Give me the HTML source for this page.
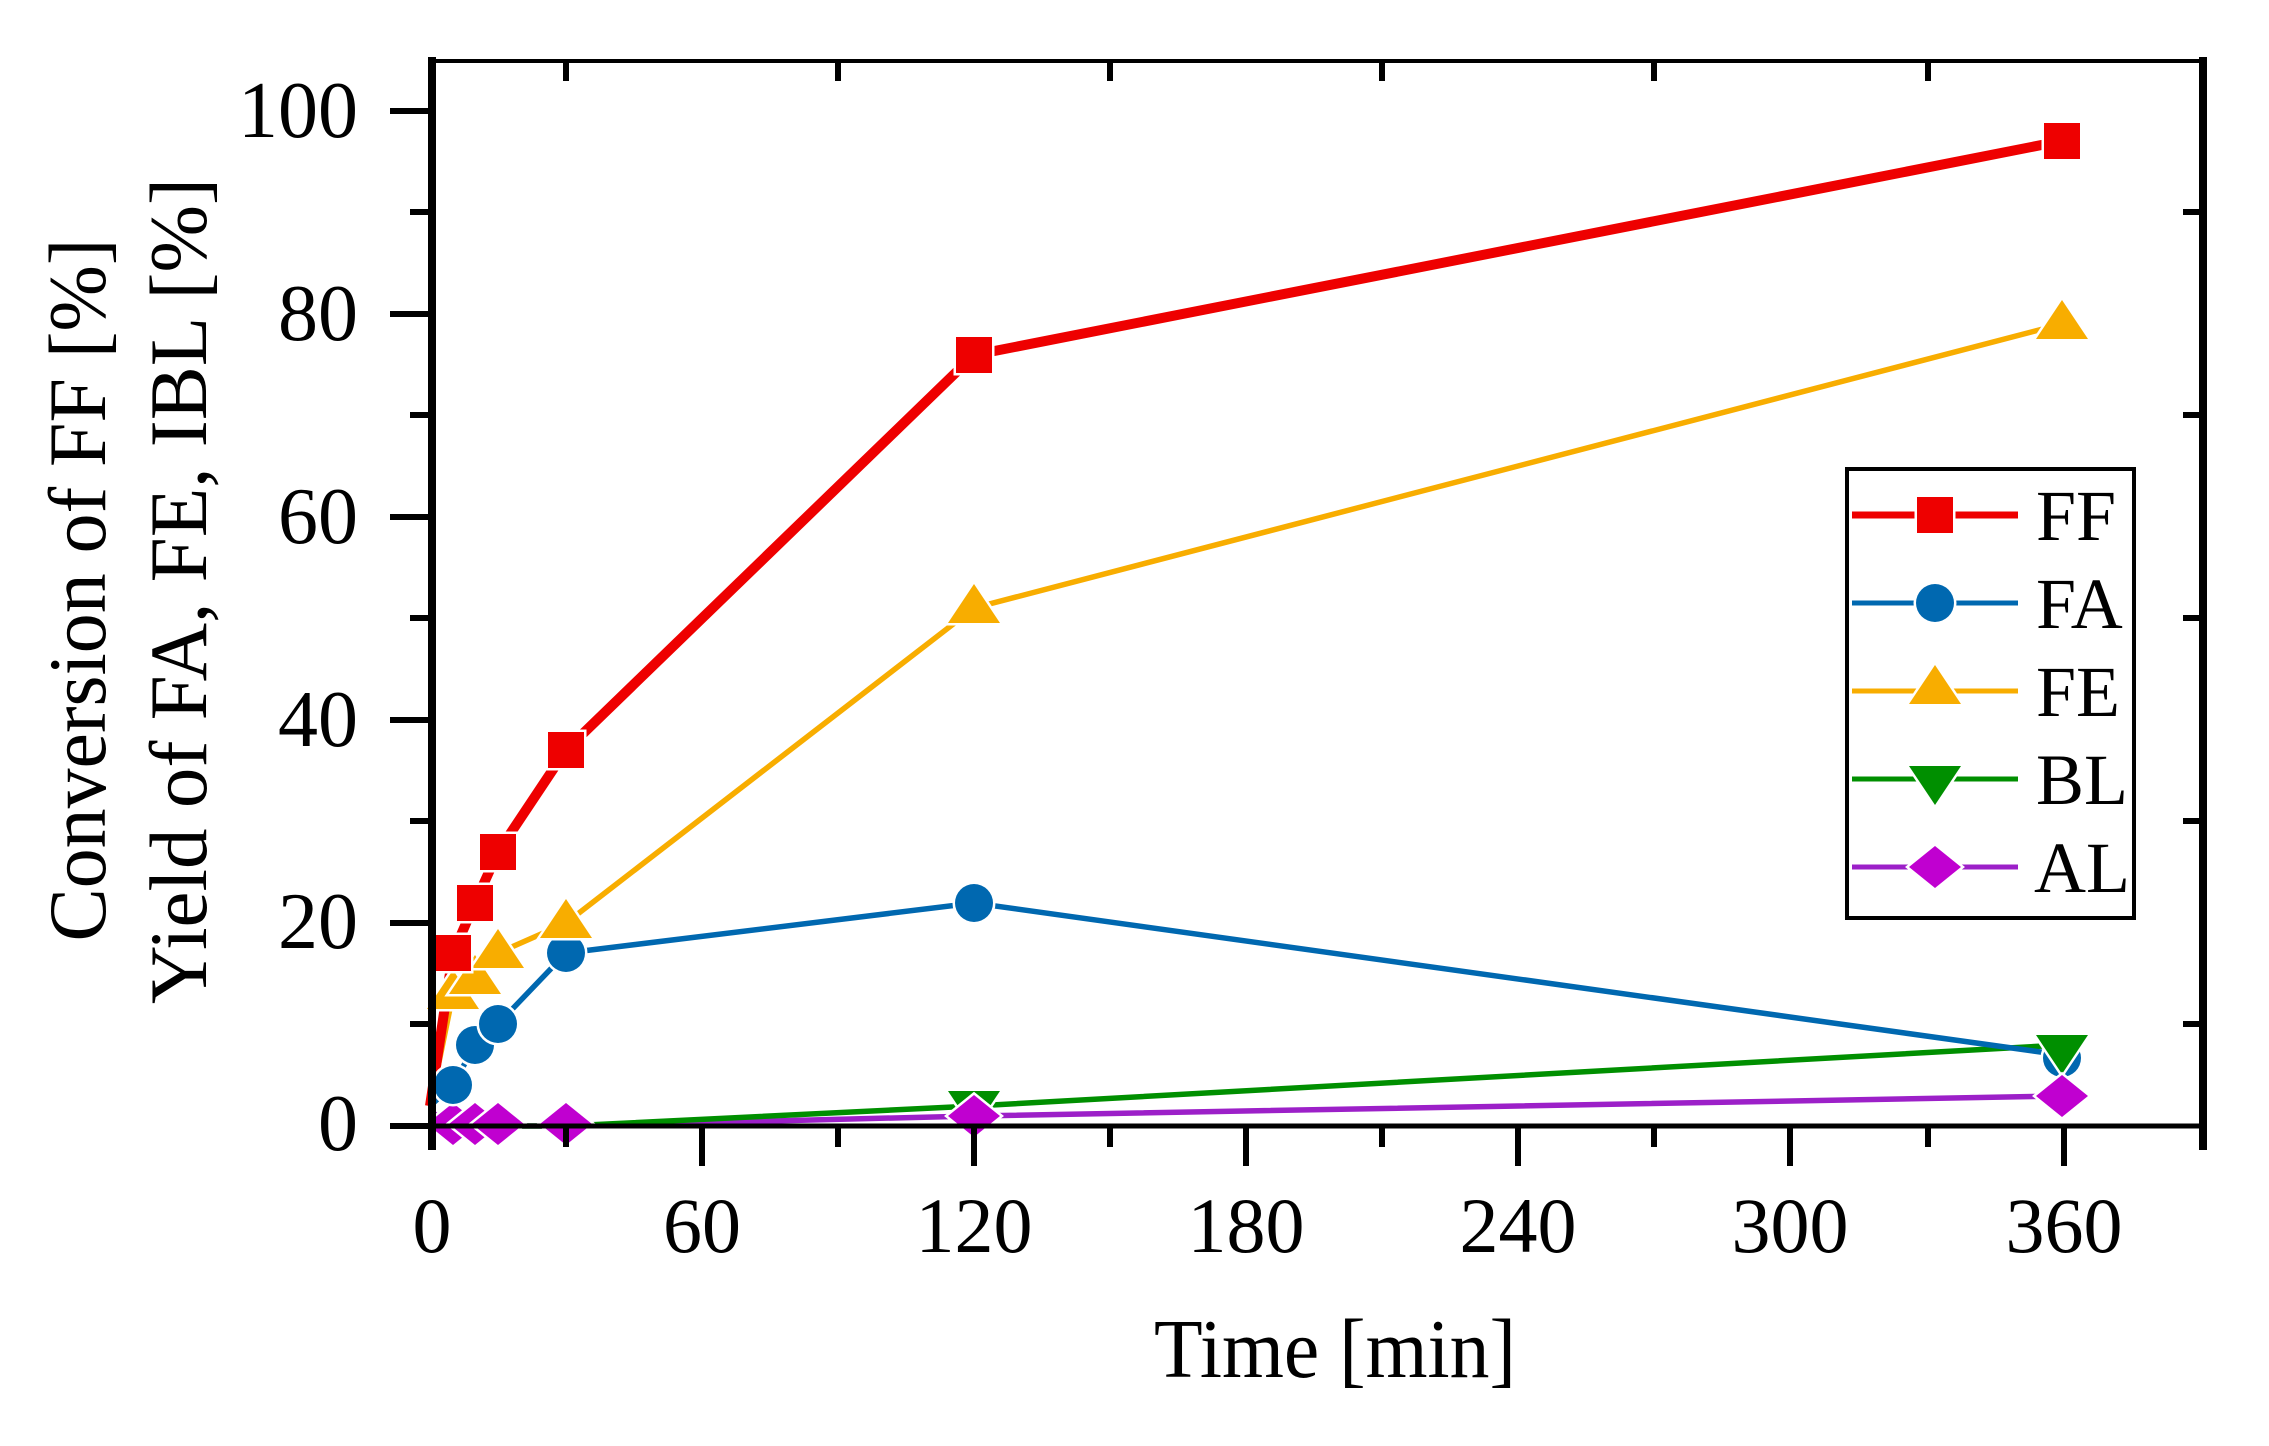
<!DOCTYPE html>
<html><head><meta charset="utf-8"><style>html,body{margin:0;padding:0;background:#fff}svg{display:block}</style></head>
<body>
<svg width="2269" height="1446" viewBox="0 0 2269 1446" xmlns="http://www.w3.org/2000/svg" font-family="'Liberation Serif', serif">
<rect width="2269" height="1446" fill="#fff"/>
<defs>
<g id="sq"><rect x="-18" y="-18" width="36" height="36" fill="#ee0000" stroke="#fff" stroke-width="5" paint-order="stroke"/></g>
<g id="ci"><circle r="19" fill="#0068b0" stroke="#fff" stroke-width="5" paint-order="stroke"/></g>
<g id="tu"><polygon points="0,-24 26,15 -26,15" fill="#f8ad00" stroke="#fff" stroke-width="5" paint-order="stroke"/></g>
<g id="td"><polygon points="0,24 26,-15 -26,-15" fill="#008f00" stroke="#fff" stroke-width="5" paint-order="stroke"/></g>
<g id="di"><polygon points="0,-21 26,0 0,21 -26,0" fill="#c000d0" stroke="#fff" stroke-width="5" paint-order="stroke"/></g>
</defs>
<polyline fill="none" stroke="#9c20c8" stroke-width="5.5" points="430,1111 453,1126 475,1126 498,1126 566,1126 974,1116 2062,1096"/>
<polyline fill="none" stroke="#008f00" stroke-width="5.5" points="430,1116 453,1126 475,1126 498,1126 566,1126 974,1106 2062,1045"/>
<polyline fill="none" stroke="#0068b0" stroke-width="5.5" points="430,1106 453,1085 475,1045 498,1024 566,953 974,903 2062,1055"/>
<polyline fill="none" stroke="#f8ad00" stroke-width="5.5" points="430,1106 453,994 475,979 498,953 566,923 974,608 2062,324"/>
<polyline fill="none" stroke="#ee0000" stroke-width="10" points="430,1106 453,953 475,903 498,852 566,750 974,355 2062,141"/>
<g>
<use href="#di" x="453" y="1124"/><use href="#di" x="475" y="1124"/><use href="#di" x="498" y="1124"/><use href="#di" x="566" y="1124"/>
<use href="#td" x="974" y="1106"/>
<use href="#di" x="974" y="1116"/>
<use href="#ci" x="453" y="1085"/><use href="#ci" x="475" y="1045"/><use href="#ci" x="498" y="1024"/><use href="#ci" x="566" y="953"/><use href="#ci" x="974" y="903"/><use href="#ci" x="2062" y="1058"/>
<use href="#td" x="2062" y="1050"/>
<use href="#di" x="2062" y="1096"/>
<use href="#tu" x="453" y="994"/><use href="#tu" x="475" y="979"/><use href="#tu" x="498" y="953"/><use href="#tu" x="566" y="923"/><use href="#tu" x="974" y="608"/><use href="#tu" x="2062" y="324"/>
<use href="#sq" x="453" y="953"/><use href="#sq" x="475" y="903"/><use href="#sq" x="498" y="852"/><use href="#sq" x="566" y="750"/><use href="#sq" x="974" y="355"/><use href="#sq" x="2062" y="141"/>
</g>
<rect x="432" y="61" width="1770" height="1065" fill="none" stroke="#000" stroke-width="4"/>
<line x1="432" y1="57" x2="432" y2="1150" stroke="#000" stroke-width="8"/>
<line x1="2203" y1="57" x2="2203" y2="1150" stroke="#000" stroke-width="8"/>
<line x1="428" y1="1126" x2="2207" y2="1126" stroke="#000" stroke-width="5"/>
<g stroke="#000" stroke-width="6">
<line x1="390" y1="1126" x2="432" y2="1126"/><line x1="410" y1="1024" x2="432" y2="1024"/>
<line x1="390" y1="923" x2="432" y2="923"/><line x1="410" y1="821" x2="432" y2="821"/>
<line x1="390" y1="720" x2="432" y2="720"/><line x1="410" y1="618" x2="432" y2="618"/>
<line x1="390" y1="517" x2="432" y2="517"/><line x1="410" y1="415" x2="432" y2="415"/>
<line x1="390" y1="314" x2="432" y2="314"/><line x1="410" y1="212" x2="432" y2="212"/>
<line x1="390" y1="111" x2="432" y2="111"/>
<line x1="2183" y1="1024" x2="2203" y2="1024"/><line x1="2183" y1="821" x2="2203" y2="821"/>
<line x1="2183" y1="618" x2="2203" y2="618"/><line x1="2183" y1="415" x2="2203" y2="415"/>
<line x1="2183" y1="212" x2="2203" y2="212"/>
<line x1="702" y1="1126" x2="702" y2="1166"/><line x1="974" y1="1126" x2="974" y2="1166"/>
<line x1="1246" y1="1126" x2="1246" y2="1166"/><line x1="1518" y1="1126" x2="1518" y2="1166"/>
<line x1="1790" y1="1126" x2="1790" y2="1166"/><line x1="2064" y1="1126" x2="2064" y2="1166"/>
<line x1="566" y1="1126" x2="566" y2="1147"/><line x1="838" y1="1126" x2="838" y2="1147"/>
<line x1="1110" y1="1126" x2="1110" y2="1147"/><line x1="1382" y1="1126" x2="1382" y2="1147"/>
<line x1="1654" y1="1126" x2="1654" y2="1147"/><line x1="1928" y1="1126" x2="1928" y2="1147"/>
<line x1="566" y1="61" x2="566" y2="81"/><line x1="838" y1="61" x2="838" y2="81"/>
<line x1="1110" y1="61" x2="1110" y2="81"/><line x1="1382" y1="61" x2="1382" y2="81"/>
<line x1="1654" y1="61" x2="1654" y2="81"/><line x1="1928" y1="61" x2="1928" y2="81"/>
</g>
<g font-size="80" text-anchor="end" fill="#000">
<text x="358" y="1150">0</text><text x="358" y="948">20</text><text x="358" y="746">40</text>
<text x="358" y="543">60</text><text x="358" y="340">80</text><text x="358" y="137">100</text>
</g>
<g font-size="78" text-anchor="middle" fill="#000">
<text x="432" y="1252">0</text><text x="702" y="1252">60</text><text x="974" y="1252">120</text>
<text x="1246" y="1252">180</text><text x="1518" y="1252">240</text><text x="1790" y="1252">300</text><text x="2064" y="1252">360</text>
</g>
<text x="1335" y="1377" font-size="84" text-anchor="middle" textLength="362" lengthAdjust="spacingAndGlyphs">Time [min]</text>
<text transform="translate(105,590) rotate(-90)" font-size="82" text-anchor="middle" textLength="703" lengthAdjust="spacingAndGlyphs">Conversion of FF [%]</text>
<text transform="translate(206,591) rotate(-90)" font-size="82" text-anchor="middle" textLength="826" lengthAdjust="spacingAndGlyphs">Yield of FA, FE, IBL [%]</text>
<rect x="1847" y="469" width="287" height="449" fill="#fff" stroke="#000" stroke-width="4"/>
<line x1="1852" y1="515" x2="2018" y2="515" stroke="#ee0000" stroke-width="7"/><use href="#sq" x="1935" y="515"/>
<line x1="1852" y1="603" x2="2018" y2="603" stroke="#0068b0" stroke-width="5"/><use href="#ci" x="1935" y="603"/>
<line x1="1852" y1="691" x2="2018" y2="691" stroke="#f8ad00" stroke-width="5"/><use href="#tu" x="1935" y="689"/>
<line x1="1852" y1="779" x2="2018" y2="779" stroke="#008f00" stroke-width="5"/><use href="#td" x="1935" y="781"/>
<line x1="1852" y1="867" x2="2018" y2="867" stroke="#9c20c8" stroke-width="5"/><use href="#di" x="1935" y="867"/>
<g font-size="72" fill="#000">
<text x="2036" y="540">FF</text><text x="2036" y="628">FA</text><text x="2036" y="716">FE</text>
<text x="2036" y="804">BL</text><text x="2034" y="892">AL</text>
</g>
</svg>
</body></html>
